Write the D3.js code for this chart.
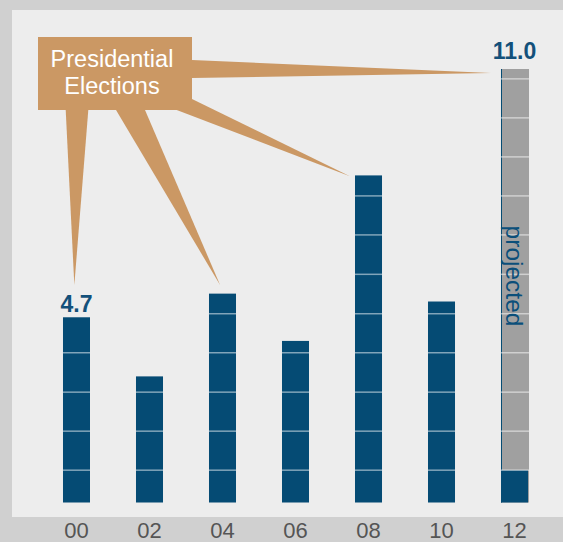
<!DOCTYPE html>
<html>
<head>
<meta charset="utf-8">
<script src="https://cdn.jsdelivr.net/npm/d3@7"></script>
<style>
  html, body { margin: 0; padding: 0; background: #d0d0d0; }
  svg { display: block; font-family: 'Liberation Sans', Arial, Helvetica, sans-serif; }
</style>
</head>
<body>
<div id="chart"></div>
<script>
// data
const years = ['00', '02', '04', '06', '08', '10', '12']
const values = [4.7, 3.2, 5.3, 4.1, 8.3, 5.1, 11.0]
const actualSoFar = [4.7, 3.2, 5.3, 4.1, 8.3, 5.1, 0.82] // last bar only partly real
const projected = [false, false, false, false, false, false, true]
const valueLabels = [
  { year: '00', text: '4.7' },
  { year: '12', text: '11.0' }
]
const gridValues = [0.82, 1.81, 2.8, 3.8, 4.79, 5.79, 6.79, 7.78, 8.77, 9.76, 10.75]
const calloutLines = ['Presidential', 'Elections']
// pointer tips: [year, value at tip, position across the band]
const pointerTips = [
  ['00', 5.52, 0.42],
  ['04', 5.52, 0.41],
  ['08', 8.28, -0.19],
  ['12', 10.9, -0.37]
]

const width = 563
const height = 542
const blue = '#054b74'
const tan = '#cb9864'

const svg = d3.select('#chart')
  .append('svg')
  .attr('width', width)
  .attr('height', height)
  .attr('viewBox', [0, 0, width, height])

svg.append('rect')
  .attr('width', width).attr('height', height)
  .attr('fill', '#d0d0d0')

// light panel
svg.append('rect')
  .attr('x', 12).attr('y', 10)
  .attr('width', width - 12).attr('height', 507)
  .attr('fill', '#ededed')

const x = d3.scaleBand()
  .domain(years)
  .range([17, 574])
  .padding(0.63)

const y = d3.scaleLinear()
  .domain([0, 11])
  .range([502.5, 69])

const rows = years.map((yr, i) => ({
  year: yr, value: values[i], actual: actualSoFar[i], projected: projected[i]
}))

// bars
const bars = svg.append('g').attr('class', 'bars')

bars.selectAll('.full')
  .data(rows)
  .join('rect')
  .attr('class', 'full')
  .attr('x', (d) => x(d.year))
  .attr('y', (d) => y(d.value))
  .attr('width', (d) => x.bandwidth() + (d.projected ? 1 : 0))
  .attr('height', (d) => y(0) - y(d.value))
  .attr('fill', (d) => (d.projected ? '#a0a0a0' : blue))

bars.selectAll('.edge')
  .data(rows.filter((d) => d.projected))
  .join('line')
  .attr('class', 'edge')
  .attr('x1', (d) => x(d.year) + 0.5)
  .attr('x2', (d) => x(d.year) + 0.5)
  .attr('y1', (d) => y(d.value))
  .attr('y2', y(0))
  .attr('stroke', blue)
  .attr('stroke-width', 1)

bars.selectAll('.actual')
  .data(rows.filter((d) => d.projected))
  .join('rect')
  .attr('class', 'actual')
  .attr('x', (d) => x(d.year))
  .attr('y', (d) => y(d.actual))
  .attr('width', x.bandwidth())
  .attr('height', (d) => y(0) - y(d.actual))
  .attr('fill', blue)

// white grid lines drawn only inside the bars
const grid = svg.append('g').attr('class', 'grid')
rows.forEach((d) => {
  grid.selectAll(null)
    .data(gridValues.filter((g) => g < d.value))
    .join('line')
    .attr('x1', x(d.year))
    .attr('x2', x(d.year) + x.bandwidth() + (d.projected ? 1 : 0))
    .attr('y1', (g) => y(g))
    .attr('y2', (g) => y(g))
    .attr('stroke', '#ffffff')
    .attr('stroke-opacity', 0.5)
    .attr('stroke-width', 1.5)
})

// "projected" label
rows.filter((d) => d.projected).forEach((d) => {
  const cx = x(d.year) + x.bandwidth() / 2
  const cy = 276
  svg.append('text')
    .attr('transform', `translate(${cx},${cy}) rotate(90)`)
    .attr('text-anchor', 'middle')
    .attr('dy', '0.35em')
    .attr('fill', '#0b4f7a')
    .attr('font-size', 24.5)
    .text('projected')
})

// value labels
svg.append('g')
  .selectAll('text')
  .data(valueLabels)
  .join('text')
  .attr('x', (d) => x(d.year) + x.bandwidth() / 2)
  .attr('y', (d) => y(values[years.indexOf(d.year)]) - (d.year === '12' ? 10 : 5))
  .attr('text-anchor', 'middle')
  .attr('fill', '#13507a')
  .attr('font-size', 23)
  .attr('font-weight', 'bold')
  .text((d) => d.text)

// x axis labels
const xAxis = svg.append('g')
  .attr('transform', 'translate(0,538)')
  .call(d3.axisBottom(x).tickSize(0).tickPadding(0))
xAxis.select('.domain').remove()
xAxis.selectAll('text')
  .attr('dy', 0)
  .attr('y', 0)
  .attr('fill', '#555555')
  .attr('font-size', 22)
  .attr('font-family', "'Liberation Sans', Arial, sans-serif")

// callout with pointers
const box = { x0: 38, y0: 37, x1: 192, y1: 110 }
const bases = [
  [[65.7, box.y1], [88.3, box.y1]],
  [[116, box.y1], [145, box.y1]],
  [[176.7, box.y1], [box.x1, 99]],
  [[box.x1, 60], [box.x1, 78]]
]
const callout = svg.append('g').attr('class', 'callout')
callout.selectAll('polygon')
  .data(pointerTips)
  .join('polygon')
  .attr('points', (d, i) => {
    const tip = [x(d[0]) + d[2] * x.bandwidth(), y(d[1])]
    return [bases[i][0], bases[i][1], tip].map((p) => p.join(',')).join(' ')
  })
  .attr('fill', tan)

callout.append('rect')
  .attr('x', box.x0).attr('y', box.y0)
  .attr('width', box.x1 - box.x0).attr('height', box.y1 - box.y0)
  .attr('fill', tan)

callout.selectAll('text')
  .data(calloutLines)
  .join('text')
  .attr('x', 112)
  .attr('y', (d, i) => 66.5 + i * 27.5)
  .attr('text-anchor', 'middle')
  .attr('fill', '#ffffff')
  .attr('font-size', 23.5)
  .text((d) => d)
</script>
</body>
</html>
